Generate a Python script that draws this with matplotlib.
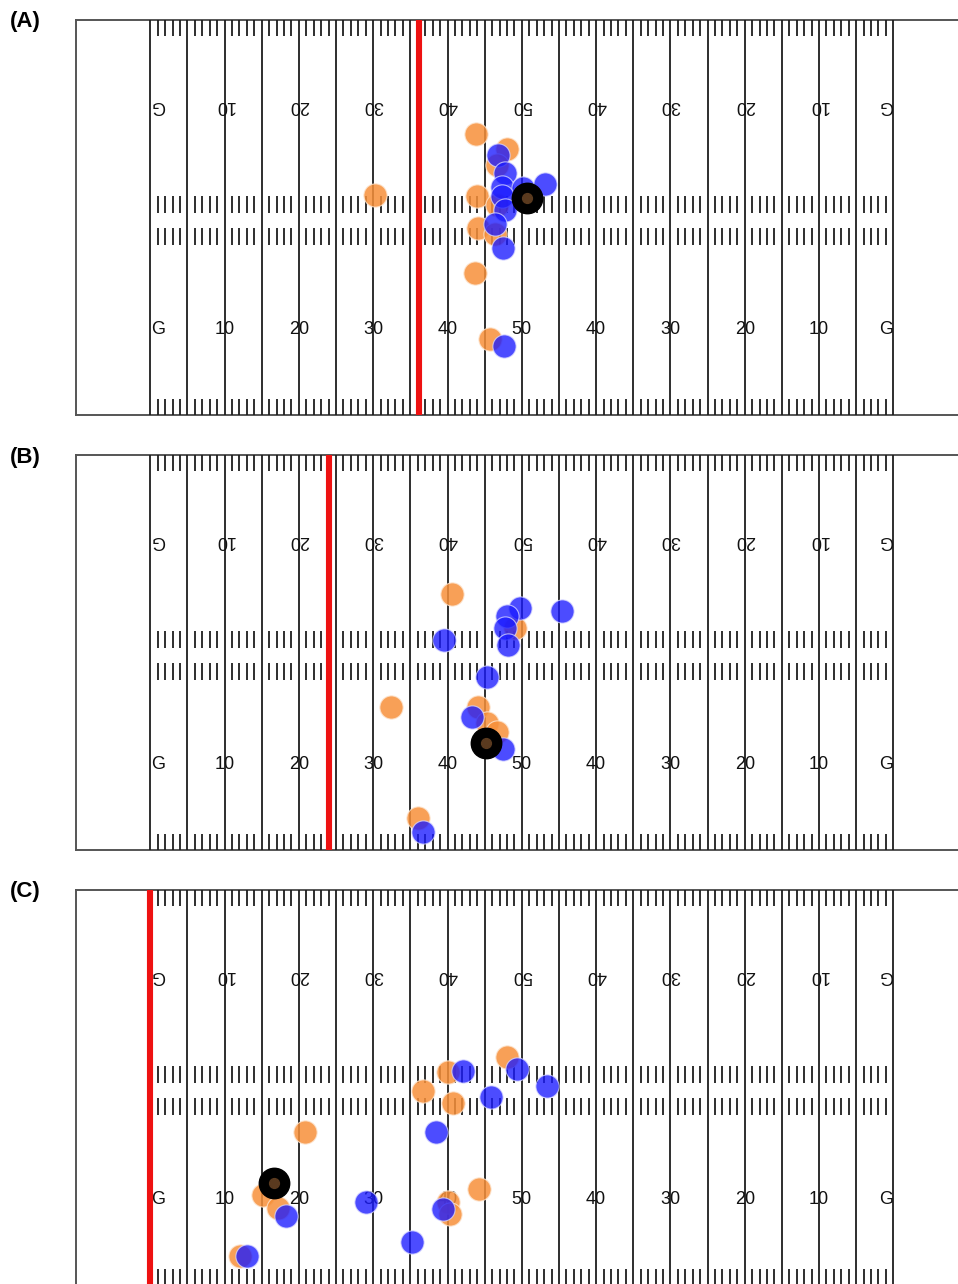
import matplotlib.pyplot as plt

plt.rcParams['font.family'] = ['Liberation Sans', 'DejaVu Sans']

# -----------------------------
# Field geometry (yards, end line to end line)
# -----------------------------
FIELD_W = 53.3
yard_lines = list(range(10, 111, 5))
hash_x = [x for x in range(11, 110) if x % 5 != 0]
number_x = [11, 20, 30, 40, 50, 60, 70, 80, 90, 100, 109]
number_labels = ["G", "10", "20", "30", "40", "50", "40", "30", "20", "10", "G"]

panel_labels = ["(A)", "(B)", "(C)"]
scrimmage = [46.2, 34.05, 10.0]

# -----------------------------
# Player / ball positions per panel
# -----------------------------
a_orange_x = [53.8, 58.0, 56.7, 40.2, 54.0, 56.7, 54.1, 56.4, 53.7, 55.7]
a_orange_y = [37.9, 35.9, 33.8, 29.7, 29.5, 28.4, 25.2, 24.4, 19.2, 10.2]
a_blue_x = [56.8, 57.7, 57.3, 60.2, 63.1, 57.3, 57.7, 56.4, 57.5, 57.6]
a_blue_y = [35.1, 32.6, 30.8, 30.6, 31.2, 29.5, 27.7, 25.8, 22.5, 9.3]
a_ball = (60.7, 29.3)

b_orange_x = [50.6, 42.4, 54.1, 55.3, 56.7, 59.1, 46.0]
b_orange_y = [34.5, 19.3, 19.3, 17.1, 15.9, 30.0, 4.3]
b_blue_x = [59.8, 65.4, 58.0, 57.7, 58.1, 49.5, 55.3, 53.3, 57.5, 46.7]
b_blue_y = [32.6, 32.2, 31.6, 29.9, 27.6, 28.4, 23.3, 17.9, 13.6, 2.4]
b_ball = (55.2, 14.4)

c_orange_x = [50.1, 46.7, 50.7, 58.0, 30.8, 25.2, 27.2, 22.1, 50.1, 50.3, 54.2]
c_orange_y = [28.8, 26.2, 24.5, 30.7, 20.6, 12.2, 10.4, 3.9, 11.2, 9.6, 12.9]
c_blue_x = [52.1, 59.4, 63.4, 55.9, 48.5, 39.0, 49.4, 45.2, 28.3, 23.0]
c_blue_y = [28.9, 29.2, 26.9, 25.4, 20.6, 11.2, 10.2, 5.8, 9.3, 3.9]
c_ball = (26.6, 13.7)

panels = [
    (a_orange_x, a_orange_y, a_blue_x, a_blue_y, a_ball),
    (b_orange_x, b_orange_y, b_blue_x, b_blue_y, b_ball),
    (c_orange_x, c_orange_y, c_blue_x, c_blue_y, c_ball),
]

# -----------------------------
# Figure
# -----------------------------
W, H = 958, 1284
fig = plt.figure(figsize=(W / 100, H / 100), dpi=100)
tops = [20, 455, 890]
ph = 395
left = 76
px_per_yd = 7.43

line_col = "#1e1e1e"
edge_col = "#555555"

for i, (ox, oy, bx, by, ball) in enumerate(panels):
    top = tops[i]
    ax = fig.add_axes([left / W, 1 - (top + ph) / H, (W - left) / W, ph / H])
    ax.set_xlim(0, (W - left) / px_per_yd)
    ax.set_ylim(0, FIELD_W)
    ax.axis("off")

    # border
    ax.plot([0, 125], [0, 0], color=edge_col, lw=1.4, clip_on=False)
    ax.plot([0, 125], [FIELD_W, FIELD_W], color=edge_col, lw=1.4, clip_on=False)
    ax.plot([0, 0], [0, FIELD_W], color=edge_col, lw=1.4, clip_on=False)

    # yard lines
    ax.vlines(yard_lines, 0, FIELD_W, color=line_col, lw=1.3)

    # hash marks
    for y0, y1 in [(0, 2.2), (FIELD_W - 2.2, FIELD_W), (23.0, 25.2), (27.3, 29.5)]:
        ax.vlines(hash_x, y0, y1, color=line_col, lw=1.3)

    # yard numbers
    for x, lab in zip(number_x, number_labels):
        ax.text(x, 11.6, lab, ha="center", va="center", fontsize=13, color="#111111")
        ax.text(x, 41.7, lab, ha="center", va="center", fontsize=13, color="#111111",
                rotation=180)

    # line of scrimmage
    ax.vlines(scrimmage[i], 0, FIELD_W, color="#ee1111", lw=4.4, zorder=3)

    # players and ball
    ax.scatter(ox, oy, s=280, color="#f7903a", alpha=0.85, edgecolors="#fde3cc",
               linewidths=0.8, zorder=4)
    ax.scatter(bx, by, s=280, color="#1a1aff", alpha=0.78, edgecolors="#d8d8ff",
               linewidths=0.8, zorder=5)
    ax.scatter([ball[0]], [ball[1]], s=480, color="black", zorder=6)
    ax.scatter([ball[0]], [ball[1]], s=50, color="#5a3a1f", zorder=7)

    fig.text(25 / W, 1 - (top + 2) / H, panel_labels[i], ha="center", va="center",
             fontsize=16, fontweight="bold")

fig.savefig("out.png", dpi=100)
